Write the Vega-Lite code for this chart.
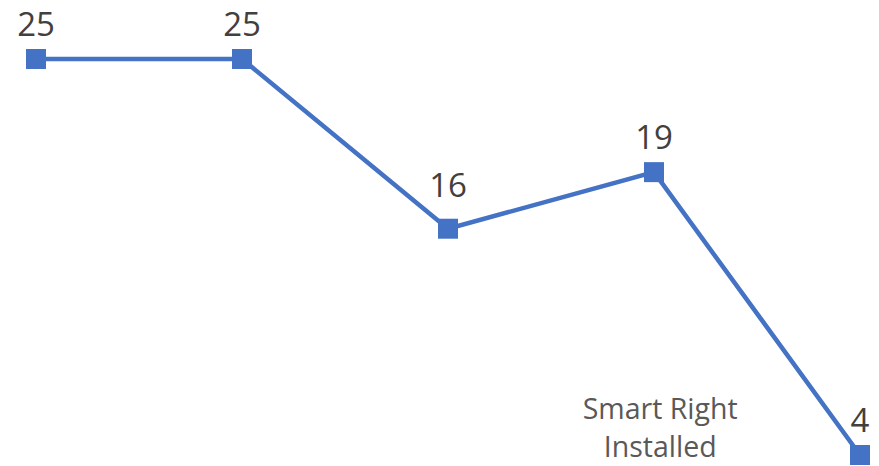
{
  "$schema": "https://vega.github.io/schema/vega-lite/v6.json",
  "width": 824,
  "height": 396,
  "autosize": "none",
  "padding": {"left": 36, "top": 59, "right": 19, "bottom": 11},
  "background": "white",
  "config": {"view": {"stroke": null}},
  "datasets": {
    "series": [
      {"idx": 1, "value": 25},
      {"idx": 2, "value": 25},
      {"idx": 3, "value": 16},
      {"idx": 4, "value": 19},
      {"idx": 5, "value": 4}
    ],
    "notes": [
      {"idx": 4.03, "value": 5.91, "note": ["Smart Right", "Installed"]}
    ]
  },
  "layer": [
    {
      "data": {"name": "series"},
      "mark": {"type": "line", "color": "#4472C4", "strokeWidth": 4.5, "clip": false},
      "encoding": {
        "x": {"field": "idx", "type": "quantitative", "scale": {"domain": [1, 5], "nice": false, "zero": false}, "axis": null},
        "y": {"field": "value", "type": "quantitative", "scale": {"domain": [4, 25], "nice": false, "zero": false}, "axis": null}
      }
    },
    {
      "data": {"name": "series"},
      "mark": {"type": "point", "shape": "square", "filled": true, "size": 400, "color": "#4472C4", "opacity": 1, "clip": false},
      "encoding": {
        "x": {"field": "idx", "type": "quantitative"},
        "y": {"field": "value", "type": "quantitative"}
      }
    },
    {
      "data": {"name": "series"},
      "transform": [{"filter": "datum.idx != 3"}],
      "mark": {"type": "text", "font": "Open Sans", "fontSize": 33, "color": "#404040", "baseline": "alphabetic", "align": "center", "dy": -23, "clip": false},
      "encoding": {
        "x": {"field": "idx", "type": "quantitative"},
        "y": {"field": "value", "type": "quantitative"},
        "text": {"field": "value", "type": "quantitative"}
      }
    },
    {
      "data": {"name": "series"},
      "transform": [{"filter": "datum.idx == 3"}],
      "mark": {"type": "text", "font": "Open Sans", "fontSize": 33, "color": "#404040", "baseline": "alphabetic", "align": "center", "dy": -32, "clip": false},
      "encoding": {
        "x": {"field": "idx", "type": "quantitative"},
        "y": {"field": "value", "type": "quantitative"},
        "text": {"field": "value", "type": "quantitative"}
      }
    },
    {
      "data": {"name": "notes"},
      "mark": {"type": "text", "font": "Open Sans", "fontSize": 28.5, "color": "#595959", "baseline": "alphabetic", "align": "center", "lineHeight": 38, "clip": false},
      "encoding": {
        "x": {"field": "idx", "type": "quantitative"},
        "y": {"field": "value", "type": "quantitative"},
        "text": {"field": "note"}
      }
    }
  ]
}
